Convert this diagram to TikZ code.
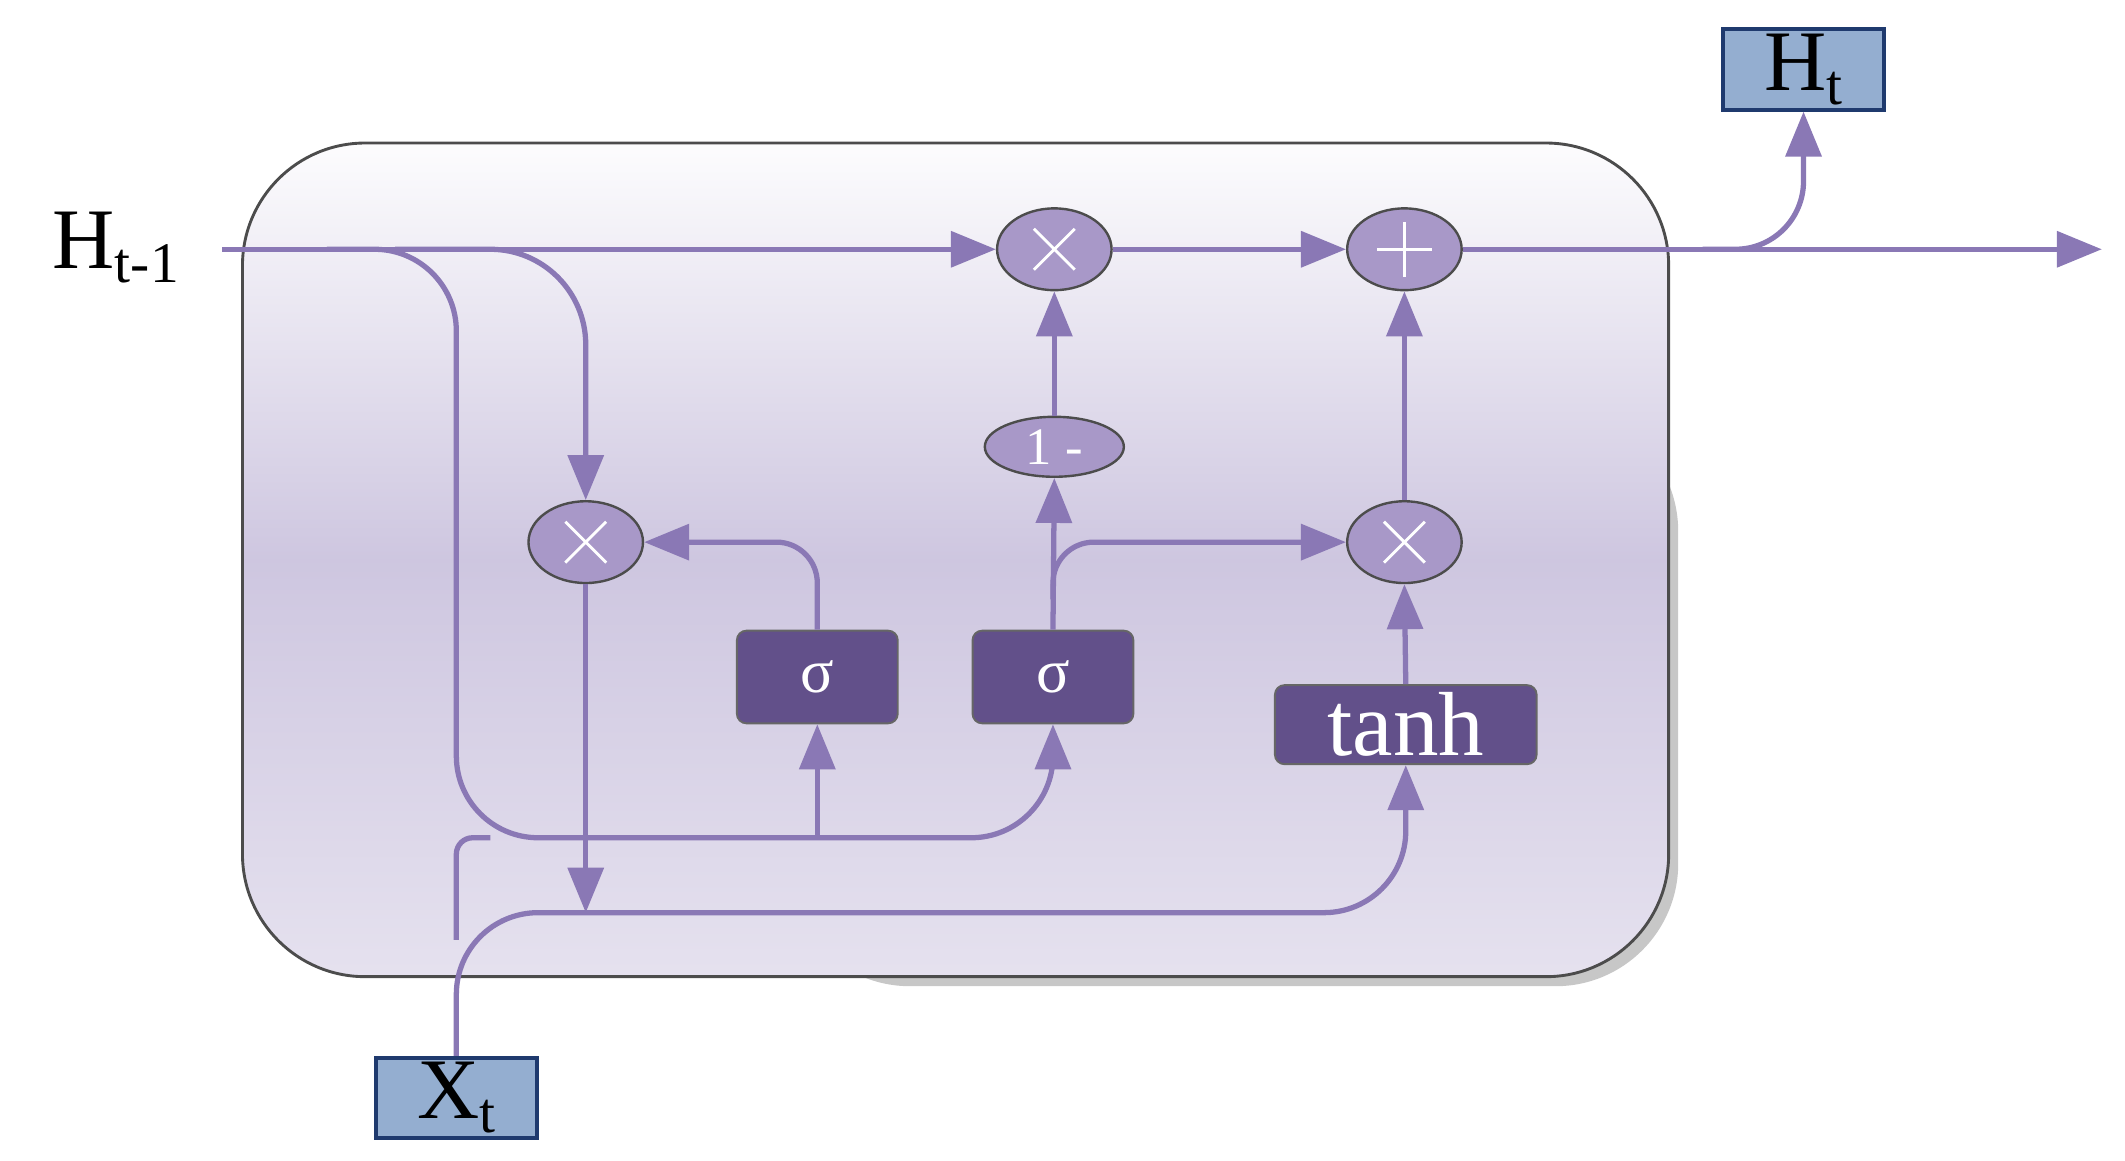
\documentclass[tikz,border=0pt]{standalone}
\usepackage{fontspec}
\setmainfont{Liberation Serif}
\usetikzlibrary{arrows.meta,shapes.geometric}
\definecolor{ln}{HTML}{8A78B5}
\definecolor{op}{HTML}{A898C8}
\definecolor{gb}{HTML}{62508A}
\definecolor{io}{HTML}{94AED0}
\definecolor{iob}{HTML}{1F3A6E}
\begin{document}
\begin{tikzpicture}[x=0.01cm,y=-0.01cm,
  ln/.style={draw=ln,line width=1.1pt,rounded corners=0.15cm},
  ar/.style={ln,-{Triangle[length=3.3mm,width=2.6mm]}},
  opn/.style={ellipse,draw=black!70,line width=0.5pt,fill=op,minimum width=0.84cm,minimum height=0.6cm,inner sep=0},
  gate/.style={draw=black!60,fill=gb,rounded corners=2pt,text=white,inner sep=0,font=\fontsize{13}{13}\selectfont},
  io/.style={draw=iob,line width=0.8pt,fill=io,minimum width=1.18cm,minimum height=0.59cm,inner sep=0,font=\fontsize{18}{18}\selectfont}]
\useasboundingbox (0,0) rectangle (1560,852);
% cell
\fill[black!22,rounded corners=0.9cm] (578,300) rectangle (1232,724);
\draw[black!70,line width=0.6pt,rounded corners=0.9cm,top color=white!95!ln!40,bottom color=ln!22,middle color=ln!42] (178,105) rectangle (1225,717);
% nodes
\node[io] (ht) at (1324,51) {H\raisebox{-0.35ex}{\fontsize{12}{12}\selectfont t}};
\node[io] (xt) at (335,806) {X\raisebox{-0.35ex}{\fontsize{12}{12}\selectfont t}};
\node (hp) at (85,182) {\fontsize{18}{18}\selectfont H\raisebox{-0.35ex}{\fontsize{12}{12}\selectfont t-1}};
\node[opn] (m1) at (774,183) {};
\node[opn] (pl) at (1031,183) {};
\node[opn] (ml) at (430,398) {};
\node[opn] (mr) at (1031,398) {};
\node[opn,minimum width=1.02cm,minimum height=0.44cm,text=white,font=\fontsize{11}{11}\selectfont] (om) at (774,328) {1 -};
\node[gate,minimum width=1.18cm,minimum height=0.68cm] (s1) at (600,497) {σ};
\node[gate,minimum width=1.18cm,minimum height=0.68cm] (s2) at (773,497) {σ};
\node[gate,minimum width=1.92cm,minimum height=0.58cm,font=\fontsize{19}{19}\selectfont] (th) at (1032,532) {tanh};
% symbols
\foreach \n in {m1,ml,mr}{\draw[white,line width=0.6pt] ([shift={(-15,-15)}]\n.center) -- ([shift={(15,15)}]\n.center) ([shift={(-15,15)}]\n.center) -- ([shift={(15,-15)}]\n.center);}
\draw[white,line width=0.6pt] ([shift={(-20,0)}]pl.center) -- ([shift={(20,0)}]pl.center) ([shift={(0,-20)}]pl.center) -- ([shift={(0,20)}]pl.center);
\coordinate (end) at (1543,183);
% connectors
\draw[ar] (163,183) -- (m1);
\draw[ar] (m1) -- (pl);
\draw[ar] (pl) -- (end);
\draw[ar,rounded corners=0.5cm] (1250,183) -- (1324,183) -- (ht.south);
\draw[ar,rounded corners=0.6cm] (240,183) -- (335,183) -- (335,615) -- (773,615) -- (s2.south);
\draw[ar] (600,615) -- (s1.south);
\draw[ar,rounded corners=0.7cm] (290,183) -- (430,183) -- (ml.north);
\draw[ar] (ml.south) -- (430,670);
\draw[ar,rounded corners=0.6cm] (xt.north) -- (335,670) -- (1032,670) -- (th.south);
\draw[ln,rounded corners=0.12cm] (335,690) -- (335,615) -- (360,615);
\draw[ar,rounded corners=0.3cm] (s1.north) -- (600,398) -- (ml.east);
\draw[ar] (s2.north) -- (om.south);
\draw[ar,rounded corners=0.3cm] (773,440) -- (773,398) -- (mr.west);
\draw[ar] (om.north) -- (m1.south);
\draw[ar] (th.north) -- (mr.south);
\draw[ar] (mr.north) -- (pl.south);
\end{tikzpicture}
\end{document}
